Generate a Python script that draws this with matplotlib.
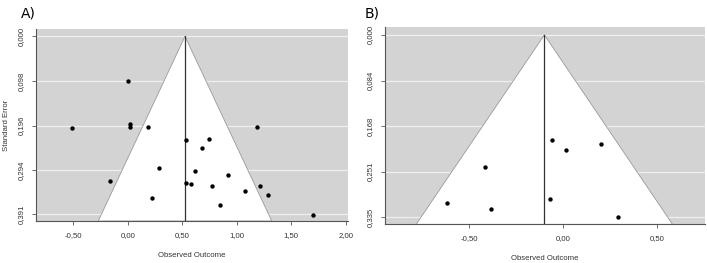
import numpy as np
import matplotlib
matplotlib.use("Agg")
import matplotlib.pyplot as plt

# panel A: observed outcomes and standard errors
a_effect = [0.00, -0.515, 0.02, 0.023, 0.188, 1.185, 0.531, 0.748, 0.678, 0.283,
            0.617, 0.919, -0.166, 0.531, 0.580, 0.775, 1.213, 1.072, 1.289, 0.219,
            0.846, 1.696]
a_se = [0.098, 0.201, 0.193, 0.200, 0.199, 0.200, 0.228, 0.2265, 0.246, 0.2905,
        0.2965, 0.3046, 0.318, 0.322, 0.3237, 0.3287, 0.3296, 0.340, 0.349, 0.355,
        0.371, 0.392]
a_center = 0.525
a_yticks = [0.000, 0.098, 0.196, 0.294, 0.391]
a_yticklabels = ["0,000", "0,098", "0,196", "0,294", "0,391"]
a_xticks = [-0.5, 0.0, 0.5, 1.0, 1.5, 2.0]
a_xticklabels = ["-0,50", "0,00", "0,50", "1,00", "1,50", "2,00"]

# panel B
b_effect = [-0.0585, 0.0128, 0.199, -0.418, -0.617, -0.069, -0.385, 0.2926]
b_se = [0.193, 0.2107, 0.2009, 0.2418, 0.3084, 0.3016, 0.3194, 0.335]
b_center = -0.10
b_yticks = [0.000, 0.084, 0.168, 0.251, 0.335]
b_yticklabels = ["0,000", "0,084", "0,168", "0,251", "0,335"]
b_xticks = [-0.5, 0.0, 0.5]
b_xticklabels = ["-0,50", "0,00", "0,50"]

FONT = "Liberation Sans"
FS = 5.6


def funnel(ax, eff, se, center, xlim, ylim_max, yticks, yticklabels, xticks, xticklabels):
    ax.set_facecolor("#d3d3d3")
    ax.set_xlim(*xlim)
    ax.set_ylim(ylim_max, -0.04 * ylim_max)
    for y in yticks:
        ax.axhline(y, color="#f0f0f0", lw=0.9, zorder=1)
    half = 1.96 * ylim_max
    ax.fill([center - half, center, center + half], [ylim_max, 0, ylim_max],
            facecolor="white", edgecolor="#9a9a9a", lw=0.6, zorder=2)
    ax.plot([center, center], [0, ylim_max], color="#333333", lw=0.9, zorder=3)
    ax.scatter(eff, se, s=10, color="black", zorder=4, linewidths=0)

    ax.set_yticks(yticks)
    ax.set_yticklabels(yticklabels, rotation=90, va="center", fontsize=FS,
                       family=FONT, color="#333333")
    ax.set_xticks(xticks)
    ax.set_xticklabels(xticklabels, fontsize=FS, family=FONT, color="#333333")
    ax.tick_params(length=3, width=0.6, color="#555555", pad=5)
    for s in ["top", "right"]:
        ax.spines[s].set_visible(False)
    for s in ["left", "bottom"]:
        ax.spines[s].set_color("#555555")
        ax.spines[s].set_linewidth(0.8)
    ax.set_xlabel("Observed Outcome", fontsize=FS, family=FONT, color="#333333",
                  labelpad=9)


fig = plt.figure(figsize=(7.07, 2.63), dpi=100)
ax1 = fig.add_axes([0.0509, 0.1597, 0.4413, 0.730])
ax2 = fig.add_axes([0.5446, 0.147, 0.4526, 0.749])

funnel(ax1, a_effect, a_se, a_center, (-0.842, 2.02), 0.406,
       a_yticks, a_yticklabels, a_xticks, a_xticklabels)
ax1.set_ylabel("Standard Error", fontsize=FS, family=FONT, color="#333333",
               labelpad=6)

funnel(ax2, b_effect, b_se, b_center, (-0.948, 0.755), 0.348,
       b_yticks, b_yticklabels, b_xticks, b_xticklabels)

fig.text(0.030, 0.95, "A)", fontsize=10, va="center", ha="left")
fig.text(0.516, 0.95, "B)", fontsize=10, va="center", ha="left")

fig.savefig("out.png", dpi=100)
